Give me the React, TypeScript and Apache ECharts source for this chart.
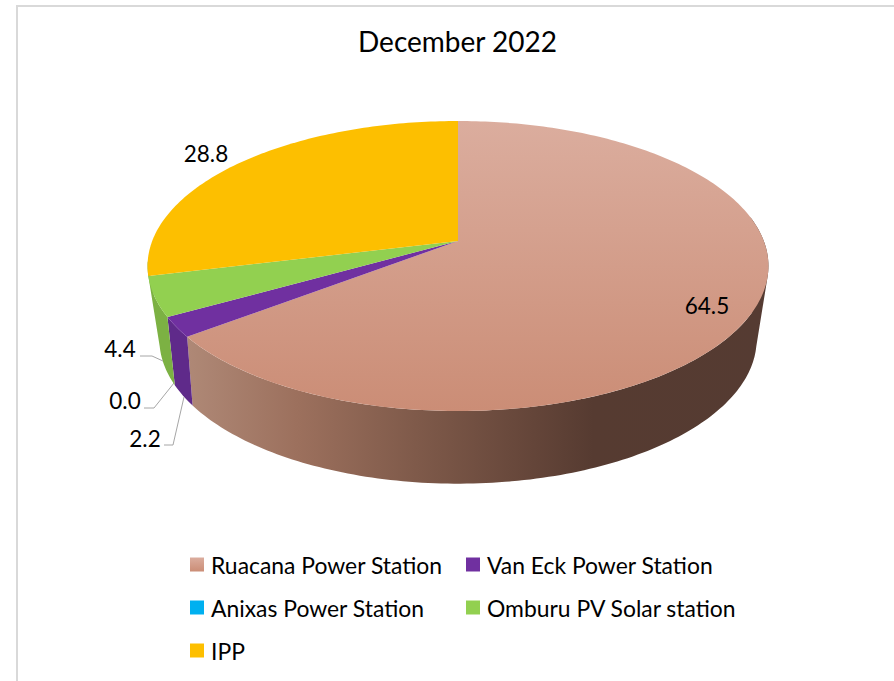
import React, { useEffect, useRef } from "react";
import * as echarts from "echarts";

const categories = [
  "Ruacana Power Station",
  "Van Eck Power Station",
  "Anixas Power Station",
  "Omburu PV Solar station",
  "IPP",
];
const values = [64.5, 2.2, 0.0, 4.4, 28.8];
const labels = ["64.5", "2.2", "0.0", "4.4", "28.8"];
const titleText = "December 2022";

const FONT = "Lato, Carlito, Calibri, sans-serif";
const solid = ["#cf9784", "#7030a0", "#00b0f0", "#92d050", "#fdbf00"];
const sideColors = ["", "#5f2a8a", "#0095cc", "#7cb143", ""];

// perspective projection of the disc's two faces
const topPlane = { cx: 458, cy: 241, A: 305.8, B: 140.7, k: 0.1724 };
const botPlane = { cx: 458, cy: 309, A: 292, B: 138, k: 0.21 };
const VIS_START = 80;
const VIS_END = 262;

const labelLayout = [
  { x: 707, y: 305 },
  { x: 145, y: 438, line: [[164, 445], [173, 445], [184, 397]] },
  { x: 125, y: 400, line: [[144, 408], [154, 408], [174, 383]] },
  { x: 120, y: 348, line: [[140, 356], [152, 356], [163, 361]] },
  { x: 206, y: 153 },
];
const legendLayout = [
  { left: 190, top: 566 },
  { left: 466, top: 566 },
  { left: 190, top: 609 },
  { left: 466, top: 609 },
  { left: 190, top: 652 },
];

type Plane = typeof topPlane;
function project(p: Plane, deg: number): [number, number] {
  const t = (deg * Math.PI) / 180;
  const w = 1 + p.k * Math.cos(t);
  return [p.cx + (p.A * Math.sin(t)) / w, p.cy - (p.B * Math.cos(t)) / w];
}
function arcPoints(p: Plane, a: number, b: number) {
  const n = Math.max(2, Math.ceil(Math.abs(b - a)));
  const out: [number, number][] = [];
  for (let i = 0; i <= n; i++) out.push(project(p, a + ((b - a) * i) / n));
  return out;
}
function toPath(pts: number[][]) {
  return pts.map((q, i) => `${i ? "L" : "M"}${q[0].toFixed(2)} ${q[1].toFixed(2)}`).join("") + "Z";
}
function topFace(a: number, b: number) {
  return toPath([[topPlane.cx, topPlane.cy], ...arcPoints(topPlane, a, b)]);
}
function sideFace(a: number, b: number) {
  const t = arcPoints(topPlane, a, b);
  const u = arcPoints(botPlane, a, b);
  let d = "";
  for (let i = 0; i + 1 < t.length; i++) {
    let quad = [t[i], t[i + 1], u[i + 1], u[i]];
    let area = 0;
    for (let j = 0; j < 4; j++) {
      const c = quad[j];
      const e = quad[(j + 1) % 4];
      area += c[0] * e[1] - e[0] * c[1];
    }
    if (area < 0) quad = quad.reverse();
    d += toPath(quad);
  }
  return d;
}

export default function App() {
  const ref = useRef<HTMLDivElement>(null);
  useEffect(() => {
    const chart = echarts.init(ref.current!, undefined, { renderer: "svg" });
    const total = values.reduce((s, v) => s + v, 0);
    const starts: number[] = [];
    values.reduce((acc, v, i) => {
      starts[i] = acc;
      return acc + (v / total) * 360;
    }, 0);
    const ends = starts.map((s, i) => s + (values[i] / total) * 360);

    const G = echarts.graphic.LinearGradient;
    const topGradient = new G(0, 121, 0, 411, [
      { offset: 0, color: "#dbad9e" },
      { offset: 1, color: "#cb8d76" },
    ], true);
    const sideGradient = new G(180, 0, 770, 0, [
      { offset: 0, color: "#b08a78" },
      { offset: 0.2, color: "#9c705d" },
      { offset: 0.4, color: "#7f5a4a" },
      { offset: 0.6, color: "#644539" },
      { offset: 0.7, color: "#563b31" },
      { offset: 1, color: "#553b32" },
    ], true);
    const legendGradient = new G(0, 0, 0, 1, [
      { offset: 0, color: "#dbad9e" },
      { offset: 1, color: "#cb8d76" },
    ]);

    const series = categories.map((name, i) => ({
      type: "custom",
      name,
      coordinateSystem: "none",
      silent: true,
      itemStyle: { color: i === 0 ? legendGradient : solid[i] },
      data: [values[i]],
      renderItem: () => {
        const children: any[] = [];
        const a = starts[i];
        const b = ends[i];
        const sideB = i === values.length - 2 ? Math.max(b, VIS_END) : b;
        if (values[i] > 0 && i < values.length - 1) {
          children.push({
            type: "path",
            shape: { pathData: sideFace(i === 0 ? VIS_START : a, i === 0 ? Math.min(b, VIS_END) : sideB) },
            style: { fill: i === 0 ? sideGradient : sideColors[i] },
          });
        }
        if (values[i] > 0) {
          children.push({
            type: "path",
            shape: { pathData: topFace(a, b) },
            style: { fill: i === 0 ? topGradient : solid[i] },
          });
        }
        const lay = labelLayout[i];
        if (lay.line) {
          children.push({
            type: "polyline",
            shape: { points: lay.line },
            style: { stroke: "#a6a6a6", fill: "none", lineWidth: 1 },
          });
        }
        children.push({
          type: "text",
          style: {
            text: labels[i],
            x: lay.x,
            y: lay.y,
            fill: "#000",
            fontSize: 22.5,
            fontFamily: FONT,
            textAlign: "center",
            textVerticalAlign: "middle",
          },
        });
        return { type: "group", children };
      },
    }));

    chart.setOption({
      animation: false,
      backgroundColor: "#fff",
      title: {
        text: titleText,
        left: 457.5,
        top: 41,
        textAlign: "center",
        textVerticalAlign: "middle",
        textStyle: { color: "#000", fontWeight: "normal", fontSize: 28, fontFamily: FONT },
        padding: 0,
      },
      legend: categories.map((name, i) => ({
        data: [name],
        left: legendLayout[i].left,
        top: legendLayout[i].top - 13,
        padding: 0,
        icon: "rect",
        itemWidth: 14,
        itemHeight: 14,
        selectedMode: false,
        textStyle: {
          color: "#000",
          fontSize: 22.9,
          fontFamily: FONT,
          padding: [0, 0, 0, 2],
        },
      })),
      graphic: [
        { type: "line", silent: true, shape: { x1: 16, y1: 6, x2: 894, y2: 6 }, style: { stroke: "#d9d9d9", lineWidth: 2 } },
        { type: "line", silent: true, shape: { x1: 17, y1: 5, x2: 17, y2: 681 }, style: { stroke: "#d9d9d9", lineWidth: 2 } },
      ],
      series,
    });
    return () => chart.dispose();
  }, []);
  return <div ref={ref} style={{ position: "fixed", left: 0, top: 0, width: 894, height: 681 }} />;
}
